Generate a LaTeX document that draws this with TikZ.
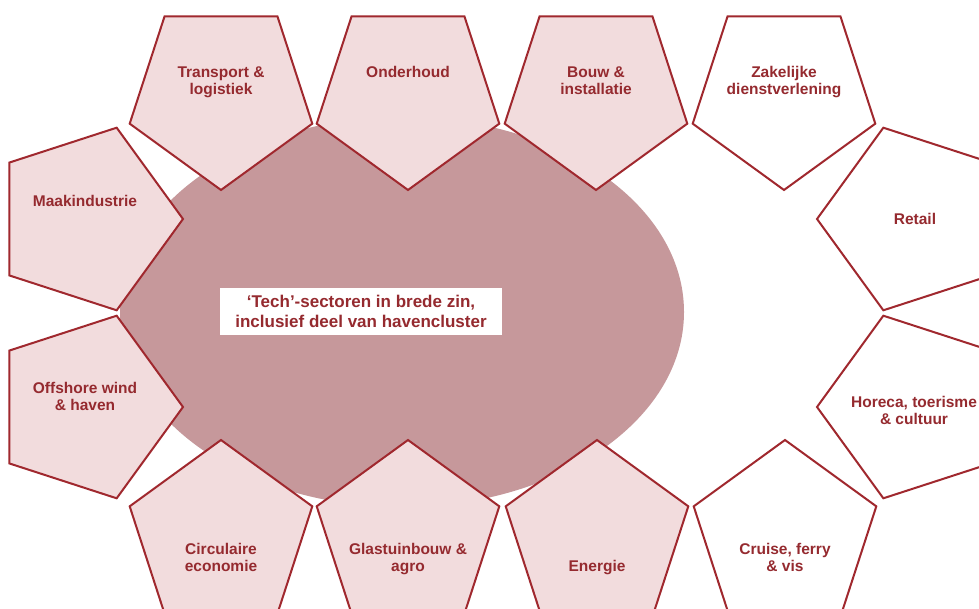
\documentclass[tikz,border=0pt]{standalone}
\usepackage{fontspec}
\setmainfont{Liberation Sans}
\usetikzlibrary{shapes.geometric}
\definecolor{pentfill}{HTML}{F2DCDD}
\definecolor{pentline}{HTML}{A0282E}
\definecolor{labeltxt}{HTML}{952A2F}
\definecolor{blobfill}{HTML}{C6989B}
\tikzset{
  pent/.style={regular polygon, regular polygon sides=5, minimum size=192pt,
    inner sep=0pt, outer sep=0pt, draw=pentline, line width=2pt},
  pink/.style={fill=pentfill},
  blank/.style={fill=white},
  down/.style={shape border rotate=180},
  tright/.style={shape border rotate=270},
  tleft/.style={shape border rotate=90},
  lbl/.style={text=labeltxt, align=center, inner sep=0pt,
    font=\fontsize{15.5}{17.5}\selectfont\bfseries},
  toplbl/.style={lbl, anchor=north},
  botlbl/.style={lbl, anchor=south},
  centerbox/.style={fill=white, text=labeltxt, align=center,
    minimum width=282pt, minimum height=47pt, inner sep=0pt,
    font=\fontsize{17}{20}\selectfont\bfseries}
}
\begin{document}
\begin{tikzpicture}[x=1pt,y=-1pt]
\useasboundingbox (0,0) rectangle (979,609);
\clip (0,0) rectangle (979,609);
\fill[white] (0,0) rectangle (979,609);
% central blob
\fill[blobfill] (402,312) ellipse [x radius=282, y radius=195];
\node[centerbox] (tech) at (361,311.5) {`Tech'-sectoren in brede zin,\\inclusief deel van havencluster};
% top row
\node[pent, pink, down] (p1) at (221,94) {};
\node[pent, pink, down] (p2) at (408,94) {};
\node[pent, pink, down] (p3) at (596,94) {};
\node[pent, blank, down] (p4) at (784,94) {};
% bottom row
\node[pent, pink] (p5) at (221,536) {};
\node[pent, pink] (p6) at (408,536) {};
\node[pent, pink] (p7) at (597,536) {};
\node[pent, blank] (p8) at (785,536) {};
% left column
\node[pent, pink, tright] (p9) at (87,219) {};
\node[pent, pink, tright] (p10) at (87,407) {};
% right column
\node[pent, blank, tleft] (p11) at (913,219) {};
\node[pent, blank, tleft] (p12) at (913,407) {};
% labels
\node[toplbl] (t1) at (221,65) {\strut Transport \&\\logistiek\strut};
\node[toplbl] (t2) at (408,65) {\strut Onderhoud\strut};
\node[toplbl] (t3) at (596,65) {\strut Bouw \&\\installatie\strut};
\node[toplbl] (t4) at (784,65) {\strut Zakelijke\\dienstverlening\strut};
\node[botlbl] (t5) at (221,577) {\strut Circulaire\\economie\strut};
\node[botlbl] (t6) at (408,577) {\strut Glastuinbouw \&\\agro\strut};
\node[botlbl] (t7) at (597,577) {\strut Energie\strut};
\node[botlbl] (t8) at (785,577) {\strut Cruise, ferry\\\& vis\strut};
\node[toplbl] (t9) at (85,194) {\strut Maakindustrie\strut};
\node[toplbl] (t10) at (85,381) {\strut Offshore wind\\\& haven\strut};
\node[toplbl] (t11) at (915,212) {\strut Retail\strut};
\node[toplbl] (t12) at (914,395) {\strut Horeca, toerisme\\\& cultuur\strut};
\end{tikzpicture}
\end{document}
